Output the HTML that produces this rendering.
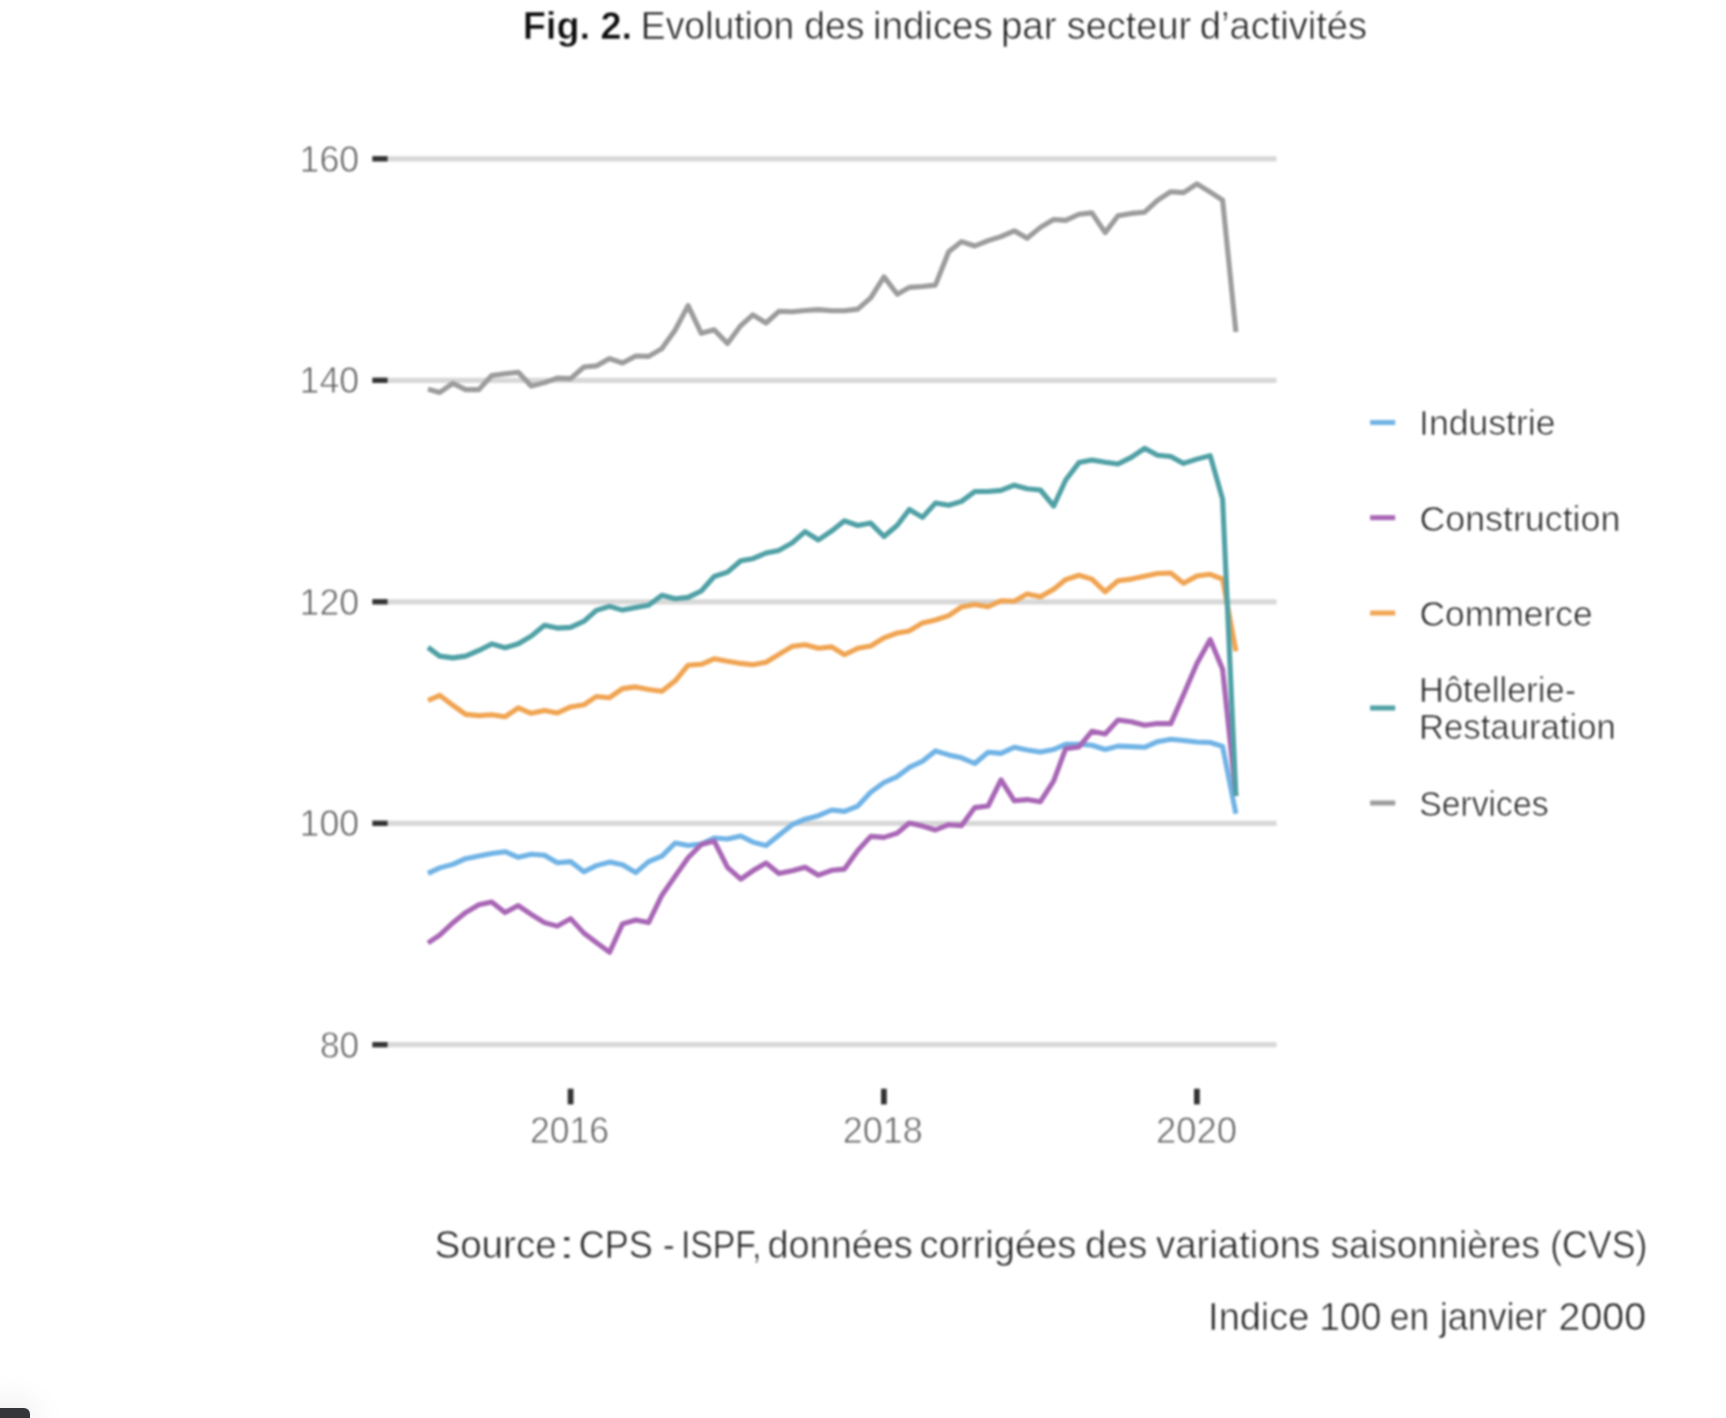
<!DOCTYPE html>
<html lang="fr"><head><meta charset="utf-8"><title>Fig. 2</title>
<style>
html,body{margin:0;padding:0;background:#fff;}
body{width:1726px;height:1418px;overflow:hidden;position:relative;font-family:"Liberation Sans",sans-serif;}
svg{position:absolute;left:0;top:0;display:block;}
text{font-family:"Liberation Sans",sans-serif;stroke:#fff;stroke-width:0.8px;paint-order:fill stroke;}
.ax{font-size:37px;fill:#5c5c5c;}
.lg{font-size:35.3px;fill:#222;stroke-width:0.7px;}
.tt{font-size:38.5px;fill:#1c1c1c;stroke-width:0.7px;}
.tt.b{font-weight:bold;fill:#0c0c0c;stroke-width:0.5px;}
.ft{font-size:39.5px;fill:#202020;stroke-width:0.7px;}
.corner{position:absolute;left:-10px;top:1408px;width:40px;height:30px;background:#35363a;border-radius:0 6px 0 0;box-shadow:0 0 36px rgba(0,0,0,.13);}
#chart{filter:blur(0.8px);}
</style></head>
<body>
<svg id="chart" width="1726" height="1418" viewBox="0 0 1726 1418">
<line x1="387" y1="158.8" x2="1276.6" y2="158.8" stroke="#d8d8d8" stroke-width="5.2"/>
<line x1="372.3" y1="158.8" x2="387.6" y2="158.8" stroke="#333" stroke-width="5.4"/>
<line x1="387" y1="380.3" x2="1276.6" y2="380.3" stroke="#d8d8d8" stroke-width="5.2"/>
<line x1="372.3" y1="380.3" x2="387.6" y2="380.3" stroke="#333" stroke-width="5.4"/>
<line x1="387" y1="601.8" x2="1276.6" y2="601.8" stroke="#d8d8d8" stroke-width="5.2"/>
<line x1="372.3" y1="601.8" x2="387.6" y2="601.8" stroke="#333" stroke-width="5.4"/>
<line x1="387" y1="823.3" x2="1276.6" y2="823.3" stroke="#d8d8d8" stroke-width="5.2"/>
<line x1="372.3" y1="823.3" x2="387.6" y2="823.3" stroke="#333" stroke-width="5.4"/>
<line x1="387" y1="1044.7" x2="1276.6" y2="1044.7" stroke="#d8d8d8" stroke-width="5.2"/>
<line x1="372.3" y1="1044.7" x2="387.6" y2="1044.7" stroke="#333" stroke-width="5.4"/>
<line x1="570.6" y1="1088.7" x2="570.6" y2="1104.4" stroke="#333" stroke-width="5.8"/>
<line x1="883.9" y1="1088.7" x2="883.9" y2="1104.4" stroke="#333" stroke-width="5.8"/>
<line x1="1196.9" y1="1088.7" x2="1196.9" y2="1104.4" stroke="#333" stroke-width="5.8"/>
<polyline fill="none" stroke="#70b3e5" stroke-width="5.1" stroke-linejoin="round" points="428.0,873.4 439.7,867.9 452.7,864.4 465.6,858.7 478.9,856.1 491.7,853.5 505.0,851.7 518.3,857.3 531.2,854.3 544.5,855.2 557.3,862.7 570.6,861.6 583.9,871.7 596.3,865.6 609.6,862.1 622.5,864.8 635.8,872.6 648.6,861.6 661.9,856.1 675.2,843.0 688.1,845.5 701.3,844.0 714.2,838.0 727.5,839.0 740.8,836.0 752.8,842.1 766.1,845.6 778.9,835.2 792.2,824.7 805.1,819.2 818.4,815.7 831.7,810.0 844.5,811.4 857.8,806.1 870.7,792.2 884.0,782.5 897.3,776.6 909.3,767.4 922.5,761.3 935.4,750.9 948.7,754.9 961.6,757.8 974.8,763.5 988.1,752.2 1001.0,753.4 1014.3,747.3 1027.1,749.9 1040.4,752.1 1053.7,749.5 1065.7,744.3 1079.0,744.3 1091.9,745.2 1105.2,749.5 1118.0,746.1 1131.3,746.6 1144.6,747.3 1157.5,741.7 1170.8,739.2 1183.6,740.5 1196.9,742.0 1210.2,742.5 1222.6,746.4 1235.9,813.8"/>
<polyline fill="none" stroke="#a866b5" stroke-width="5.1" stroke-linejoin="round" points="428.0,943.0 439.7,935.2 452.7,923.0 465.6,912.6 478.9,904.7 491.7,902.1 505.0,912.6 518.3,905.6 531.2,914.3 544.5,922.6 557.3,926.1 570.6,918.6 583.9,933.1 596.3,942.5 609.6,952.2 622.5,923.9 635.8,920.0 648.6,922.6 661.9,895.2 675.2,876.1 688.1,857.8 701.3,844.5 714.2,841.1 727.5,867.3 740.8,879.2 752.8,870.8 766.1,863.0 778.9,873.4 792.2,870.8 805.1,867.3 818.4,875.2 831.7,870.3 844.5,869.1 857.8,850.5 870.7,836.4 884.0,837.4 897.3,833.1 909.3,823.0 922.5,826.1 935.4,830.0 948.7,824.7 961.6,825.6 974.8,807.6 988.1,806.0 1001.0,779.9 1014.3,800.8 1027.1,799.6 1040.4,801.7 1053.7,780.8 1065.7,748.7 1079.0,746.9 1091.9,731.3 1105.2,733.9 1118.0,720.0 1131.3,721.7 1144.6,725.2 1157.5,723.5 1170.8,723.6 1183.6,694.5 1196.9,663.5 1210.2,639.6 1222.6,669.3 1235.9,796.0"/>
<polyline fill="none" stroke="#f0a452" stroke-width="5.1" stroke-linejoin="round" points="428.0,700.5 439.7,695.3 452.7,705.2 465.6,714.4 478.9,715.6 491.7,714.7 505.0,716.8 518.3,707.8 531.2,713.3 544.5,710.4 557.3,713.0 570.6,706.9 583.9,704.8 596.3,696.5 609.6,697.7 622.5,688.6 635.8,686.9 648.6,689.5 661.9,691.3 675.2,680.8 688.1,665.2 701.3,664.3 714.2,658.8 727.5,661.3 740.8,663.4 752.8,664.8 766.1,662.2 778.9,654.4 792.2,646.4 805.1,644.8 818.4,648.3 831.7,646.9 844.5,654.7 857.8,648.3 870.7,646.0 884.0,637.9 897.3,633.0 909.3,630.9 922.5,622.9 935.4,620.0 948.7,615.6 961.6,606.9 974.8,604.5 988.1,606.8 1001.0,600.8 1014.3,601.2 1027.1,593.9 1040.4,596.8 1053.7,589.2 1065.7,579.6 1079.0,575.3 1091.9,579.1 1105.2,591.8 1118.0,580.8 1131.3,579.1 1144.6,576.2 1157.5,573.5 1170.8,573.0 1183.6,583.2 1196.9,576.0 1210.2,574.3 1222.6,579.1 1235.9,651.2"/>
<polyline fill="none" stroke="#4fa0a5" stroke-width="5.1" stroke-linejoin="round" points="428.0,647.4 439.7,656.1 452.7,657.9 465.6,656.1 478.9,650.4 491.7,643.9 505.0,647.8 518.3,643.8 531.2,636.1 544.5,625.2 557.3,628.1 570.6,627.4 583.9,621.3 596.3,610.4 609.6,606.4 622.5,610.1 635.8,607.4 648.6,605.2 661.9,595.3 675.2,598.7 688.1,597.4 701.3,591.0 714.2,576.5 727.5,572.1 740.8,560.8 752.8,558.7 766.1,553.0 778.9,550.4 792.2,542.9 805.1,531.6 818.4,540.0 831.7,530.9 844.5,520.8 857.8,525.5 870.7,523.1 884.0,536.5 897.3,525.2 909.3,509.5 922.5,517.4 935.4,503.1 948.7,505.2 961.6,501.4 974.8,491.5 988.1,491.5 1001.0,490.4 1014.3,485.2 1027.1,488.7 1040.4,490.0 1053.7,506.0 1065.7,480.0 1079.0,462.6 1091.9,460.0 1105.2,462.2 1118.0,464.0 1131.3,457.4 1144.6,448.3 1157.5,455.3 1170.8,456.5 1183.6,463.4 1196.9,459.1 1210.2,455.6 1222.6,499.1 1235.9,796.0"/>
<polyline fill="none" stroke="#9c9c9c" stroke-width="5.1" stroke-linejoin="round" points="428.0,389.1 439.7,392.5 452.7,383.3 465.6,389.6 478.9,389.6 491.7,375.5 505.0,373.8 518.3,372.2 531.2,386.1 544.5,382.6 557.3,378.1 570.6,378.6 583.9,367.0 596.3,365.9 609.6,358.6 622.5,363.0 635.8,356.0 648.6,356.4 661.9,348.6 675.2,330.0 688.1,305.6 701.3,333.3 714.2,329.8 727.5,343.5 740.8,325.6 752.8,314.8 766.1,323.0 778.9,311.3 792.2,311.7 805.1,310.5 818.4,309.6 831.7,310.8 844.5,310.8 857.8,309.1 870.7,297.8 884.0,276.9 897.3,294.3 909.3,287.4 922.5,286.5 935.4,285.1 948.7,251.7 961.6,241.6 974.8,246.0 988.1,240.6 1001.0,236.6 1014.3,230.8 1027.1,238.3 1040.4,227.4 1053.7,219.5 1065.7,220.4 1079.0,214.3 1091.9,212.9 1105.2,232.6 1118.0,215.7 1131.3,213.4 1144.6,212.2 1157.5,200.4 1170.8,191.7 1183.6,192.6 1196.9,183.9 1210.2,192.2 1222.6,200.2 1235.9,332.0"/>
<line x1="1370.1" y1="422.5" x2="1395.2" y2="422.5" stroke="#70b3e5" stroke-width="5"/>
<line x1="1370.1" y1="517.7" x2="1395.2" y2="517.7" stroke="#a866b5" stroke-width="5"/>
<line x1="1370.1" y1="613.0" x2="1395.2" y2="613.0" stroke="#f0a452" stroke-width="5"/>
<line x1="1370.1" y1="708.0" x2="1395.2" y2="708.0" stroke="#4fa0a5" stroke-width="5"/>
<line x1="1370.1" y1="803.0" x2="1395.2" y2="803.0" stroke="#9c9c9c" stroke-width="5"/>
<text id="a160" class="ax" x="299.60" y="171.7" textLength="59.60" lengthAdjust="spacingAndGlyphs">160 </text>
<text id="a140" class="ax" x="299.60" y="393.2" textLength="59.60" lengthAdjust="spacingAndGlyphs">140 </text>
<text id="a120" class="ax" x="299.60" y="614.7" textLength="59.60" lengthAdjust="spacingAndGlyphs">120 </text>
<text id="a100" class="ax" x="299.60" y="836.2" textLength="59.60" lengthAdjust="spacingAndGlyphs">100 </text>
<text id="a80" class="ax" x="320.00" y="1057.6" textLength="39.20" lengthAdjust="spacingAndGlyphs">80 </text>
<text id="x2016" class="ax" x="530.00" y="1142.8" textLength="79.00" lengthAdjust="spacingAndGlyphs">2016 </text>
<text id="x2018" class="ax" x="842.80" y="1142.8" textLength="80.00" lengthAdjust="spacingAndGlyphs">2018 </text>
<text id="x2020" class="ax" x="1156.00" y="1142.8" textLength="81.00" lengthAdjust="spacingAndGlyphs">2020 </text>
<text id="l1" class="lg" x="1419.00" y="435.4" textLength="136.60" lengthAdjust="spacingAndGlyphs">Industrie </text>
<text id="l2" class="lg" x="1419.40" y="530.6" textLength="201.00" lengthAdjust="spacingAndGlyphs">Construction </text>
<text id="l3" class="lg" x="1419.40" y="626.0" textLength="173.40" lengthAdjust="spacingAndGlyphs">Commerce </text>
<text id="l4a" class="lg" x="1419.00" y="702.4" textLength="157.20" lengthAdjust="spacingAndGlyphs">Hôtellerie- </text>
<text id="l4b" class="lg" x="1419.00" y="739.2" textLength="196.80" lengthAdjust="spacingAndGlyphs">Restauration </text>
<text id="l5" class="lg" x="1419.20" y="816.2" textLength="129.40" lengthAdjust="spacingAndGlyphs">Services </text>
<text id="tb" class="tt b" x="522.80" y="39.3" textLength="109.20" lengthAdjust="spacingAndGlyphs">Fig. 2. </text>
<text id="t1" class="tt" x="640.80" y="39.3" textLength="153.60" lengthAdjust="spacingAndGlyphs">Evolution </text>
<text id="t2" class="tt" x="804.20" y="39.3" textLength="60.40" lengthAdjust="spacingAndGlyphs">des </text>
<text id="t3" class="tt" x="873.10" y="39.3" textLength="119.60" lengthAdjust="spacingAndGlyphs">indices </text>
<text id="t4" class="tt" x="1000.90" y="39.3" textLength="55.70" lengthAdjust="spacingAndGlyphs">par </text>
<text id="t5" class="tt" x="1066.80" y="39.3" textLength="124.30" lengthAdjust="spacingAndGlyphs">secteur </text>
<text id="t6" class="tt" x="1199.80" y="39.3" textLength="167.30" lengthAdjust="spacingAndGlyphs">d’activités </text>
<text id="f1a" class="ft" x="434.40" y="1257.8" textLength="122.30" lengthAdjust="spacingAndGlyphs">Source </text>
<text id="f1a2" class="ft" x="557.40" y="1257.8" textLength="18.60" lengthAdjust="spacingAndGlyphs">: </text>
<text id="f1b" class="ft" x="578.70" y="1257.8" textLength="96.20" lengthAdjust="spacingAndGlyphs">CPS - </text>
<text id="f1c" class="ft" x="680.90" y="1257.8" textLength="80.60" lengthAdjust="spacingAndGlyphs">ISPF, </text>
<text id="f1d" class="ft" x="767.50" y="1257.8" textLength="145.30" lengthAdjust="spacingAndGlyphs">données </text>
<text id="f1e" class="ft" x="919.50" y="1257.8" textLength="156.90" lengthAdjust="spacingAndGlyphs">corrigées </text>
<text id="f1f" class="ft" x="1085.00" y="1257.8" textLength="62.20" lengthAdjust="spacingAndGlyphs">des </text>
<text id="f1g" class="ft" x="1156.00" y="1257.8" textLength="164.30" lengthAdjust="spacingAndGlyphs">variations </text>
<text id="f1h" class="ft" x="1330.40" y="1257.8" textLength="209.50" lengthAdjust="spacingAndGlyphs">saisonnières </text>
<text id="f1i" class="ft" x="1550.20" y="1257.8" textLength="97.20" lengthAdjust="spacingAndGlyphs">(CVS) </text>
<text id="f2a" class="ft" x="1208.10" y="1329.8" textLength="101.30" lengthAdjust="spacingAndGlyphs">Indice </text>
<text id="f2b" class="ft" x="1319.30" y="1329.8" textLength="62.00" lengthAdjust="spacingAndGlyphs">100 </text>
<text id="f2c" class="ft" x="1389.80" y="1329.8" textLength="39.40" lengthAdjust="spacingAndGlyphs">en </text>
<text id="f2d" class="ft" x="1439.70" y="1329.8" textLength="107.30" lengthAdjust="spacingAndGlyphs">janvier </text>
<text id="f2e" class="ft" x="1558.60" y="1329.8" textLength="87.50" lengthAdjust="spacingAndGlyphs">2000 </text>
</svg>
<div class="corner"></div>
</body></html>
